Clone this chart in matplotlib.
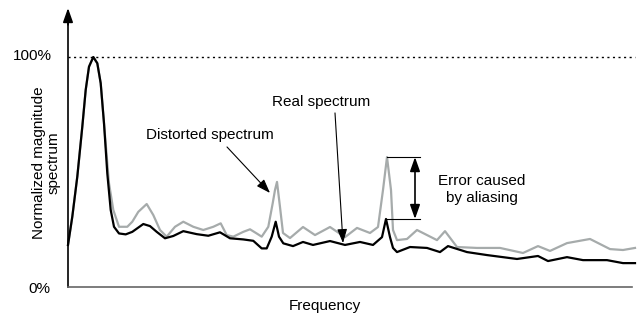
import matplotlib
matplotlib.use("Agg")
import matplotlib.pyplot as plt

plt.rcParams["font.family"] = ["Liberation Sans", "DejaVu Sans"]

# Reálne spektrum: frekvencia (ľubovoľné jednotky) a normalizovaná magnitúda v %
real_freq = [0, 4.3, 9.3, 14.3, 17.7, 21, 25.3, 29.3, 32.7, 36,
             39.3, 42.7, 46, 51, 57.7, 64.3, 75.3, 82, 88.7, 97,
             105.3, 115.3, 128.7, 140.3, 152, 162, 175.3, 185.3, 193.7, 198.7,
             203.7, 207.7, 211, 215.3, 225, 235, 245, 262, 277, 292,
             305, 314, 318, 322, 325, 329, 342, 359, 372, 380,
             399, 419, 449, 470, 480, 499, 515, 539, 555, 567]
real_mag = [18.3, 30.6, 48.0, 69.7, 85.7, 95.8, 100, 97.3, 88.6, 71.2,
            49.4, 33.5, 26.2, 23.3, 22.9, 24.0, 27.4, 26.5, 24.0, 21.2,
            22.2, 24.3, 23.0, 22.3, 23.8, 21.2, 20.7, 20.1, 16.8, 16.8,
            21.9, 28.4, 21.9, 19.0, 17.8, 19.6, 18.3, 20.0, 18.3, 19.6,
            18.3, 21.7, 29.6, 21.7, 17.0, 15.2, 17.4, 17.0, 15.2, 17.8,
            15.2, 13.9, 12.2, 13.5, 11.3, 13.0, 11.7, 11.7, 10.4, 10.4]

# Skreslené spektrum (s aliasingom)
dist_freq = [0, 4.3, 9.3, 14.3, 17.7, 21, 25.3, 29.3, 32.7, 36,
             41, 45.3, 51, 59.3, 64.3, 70.3, 78.7, 85.3, 92, 98.7,
             107, 115.3, 125.3, 135.3, 145.3, 152.7, 158.7, 165.3, 175.3, 182,
             188.7, 193.7, 200.3, 204.7, 207, 209, 212, 215, 222, 235,
             247, 262, 277, 289, 302, 310, 315, 319, 323, 325,
             329, 339, 349, 369, 377, 389, 409, 432, 455, 470,
             482, 499, 522, 542, 555, 567]
dist_mag = [18.3, 30.6, 48.0, 69.7, 85.7, 95.8, 100, 97.3, 88.6, 71.2,
            45.1, 33.5, 26.2, 26.2, 28.4, 32.7, 36.1, 31.3, 24.8, 21.9,
            26.2, 28.4, 26.2, 24.8, 26.2, 27.7, 22.6, 21.9, 24.0, 25.1,
            23.3, 21.9, 26.2, 36.4, 42.2, 45.7, 34.8, 23.5, 21.3, 26.1,
            22.6, 26.1, 21.7, 25.7, 23.5, 26.1, 42.2, 56.5, 42.2, 24.8,
            20.4, 20.9, 24.8, 20.4, 24.3, 17.4, 17.0, 17.0, 14.8, 17.8,
            15.7, 19.1, 20.9, 16.5, 16.1, 17.0]

fig = plt.figure(figsize=(6.37, 3.22), dpi=100)
ax = fig.add_axes([0, 0, 1, 1])
ax.set_xlim(-68, 569)
ax.set_ylim(-15.2, 124.8)
ax.axis("off")

ax.plot(dist_freq, dist_mag, color="#a6abab", lw=1.6, zorder=2,
        solid_joinstyle="round")
ax.plot(real_freq, real_mag, color="black", lw=1.6, zorder=3,
        solid_joinstyle="round")

# Osi so šípkami
head = "-|>,head_length=0.85,head_width=0.3"
ax.plot([0, 0], [0, 116], color="black", lw=1.2)
ax.annotate("", xy=(0, 121.3), xytext=(0, 114),
            arrowprops=dict(arrowstyle=head, color="black", lw=1.2,
                            shrinkA=0, shrinkB=0))
ax.plot([0, 564], [0, 0], color="#666666", lw=1.2)
ax.annotate("", xy=(571, 0), xytext=(560, 0),
            arrowprops=dict(arrowstyle=head, color="black", lw=1.2,
                            shrinkA=0, shrinkB=0))

# Úroveň 100 %
ax.plot([0, 567], [100, 100], color="black", lw=1.0, ls=(0, (1.5, 2.5)))
ax.text(-16, 100.5, "100%", ha="right", va="center", fontsize=11)
ax.text(-18, -0.8, "0%", ha="right", va="center", fontsize=11)

ax.text(-22, 54, "Normalized magnitude\nspectrum", rotation=90, ha="center",
        va="center", fontsize=11, linespacing=1.05)
ax.text(257, -8.3, "Frequency", ha="center", va="center", fontsize=11)

arrow_kw = dict(arrowstyle="-|>,head_length=0.85,head_width=0.3",
                color="black", lw=0.8, shrinkA=0, shrinkB=0)

ax.text(142, 66, "Distorted spectrum", ha="center", va="center", fontsize=11)
ax.annotate("", xy=(202, 40.9), xytext=(159, 60.9), arrowprops=arrow_kw)

ax.text(253, 80.4, "Real spectrum", ha="center", va="center", fontsize=11)
ax.annotate("", xy=(275, 19.1), xytext=(267, 75.7), arrowprops=arrow_kw)

# Chyba spôsobená aliasingom: rozdiel vrcholov oboch spektier
err_top = max(dist_mag[30:])
err_bottom = max(real_mag[30:])
ax.plot([319, 352], [err_top, err_top], color="black", lw=0.8)
ax.plot([318, 352], [err_bottom, err_bottom], color="black", lw=0.8)
ax.annotate("", xy=(347, err_top), xytext=(347, err_bottom),
            arrowprops=dict(arrowstyle="<|-|>,head_length=0.85,head_width=0.3",
                            color="black", lw=1.2, shrinkA=0, shrinkB=0))
ax.text(414, 42.4, "Error caused\nby aliasing", ha="center", va="center",
        fontsize=11, linespacing=1.25)

fig.savefig("out.png", dpi=100)
